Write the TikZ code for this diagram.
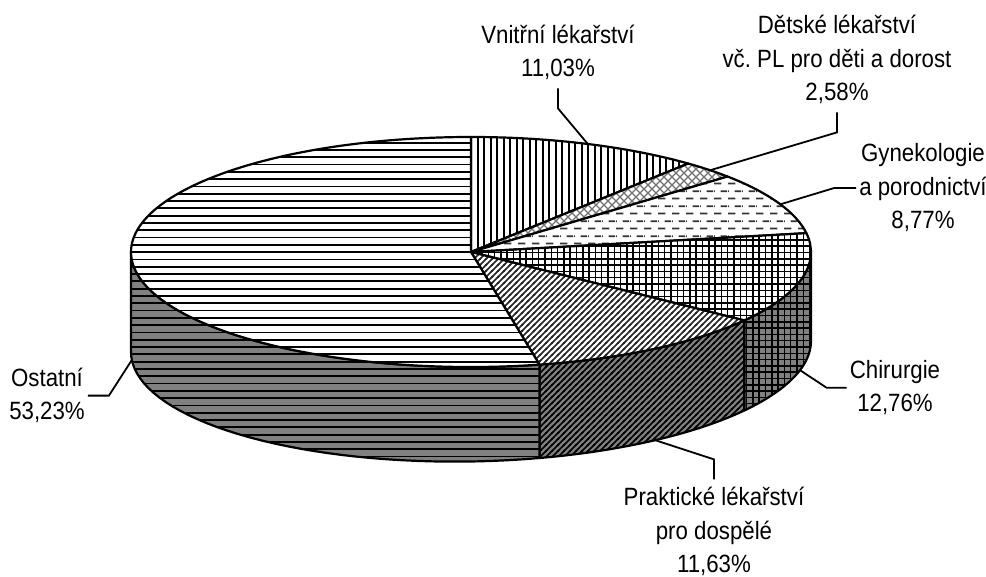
\documentclass[tikz,border=0pt]{standalone}
\usepackage{fontspec}
\setmainfont{Liberation Sans}[FakeStretch=0.89]
\usetikzlibrary{patterns.meta}

\definecolor{sidegray}{RGB}{128,128,128}
\newcommand{\lblfont}{\fontsize{25}{33.5}\selectfont}
\frenchspacing

% fill patterns of the slices
\tikzdeclarepattern{name=hstripes, type=uncolored,
  bottom left={(-.5pt,-.5pt)}, top right={(8.5pt,7.8pt)}, tile size={(8pt,7.3pt)},
  code={\draw[line width=1.8pt] (-.5pt,3.65pt) -- (8.5pt,3.65pt);}}
\tikzdeclarepattern{name=vstripes, type=uncolored,
  bottom left={(-.5pt,-.5pt)}, top right={(7pt,8.5pt)}, tile size={(6.5pt,8pt)},
  code={\draw[line width=1.6pt] (3.25pt,-.5pt) -- (3.25pt,8.5pt);}}
\tikzdeclarepattern{name=xhatch, type=uncolored,
  bottom left={(-.5pt,-.5pt)}, top right={(8.5pt,8.5pt)}, tile size={(8pt,8pt)},
  code={\draw[line width=1.3pt] (0pt,0pt) -- (8pt,8pt) (0pt,8pt) -- (8pt,0pt);}}
\tikzdeclarepattern{name=dashrows, type=uncolored,
  bottom left={(0pt,0pt)}, top right={(14pt,15pt)}, tile size={(14pt,15pt)},
  code={\draw[line width=1.8pt] (0pt,3.75pt) -- (8pt,3.75pt)
    (7pt,11.25pt) -- (14pt,11.25pt) (0pt,11.25pt) -- (1pt,11.25pt);}}
\tikzdeclarepattern{name=gridlines, type=uncolored,
  bottom left={(-.5pt,-.5pt)}, top right={(6.8pt,6.8pt)}, tile size={(6.3pt,6.3pt)},
  code={\draw[line width=1.5pt] (3.15pt,-.5pt) -- (3.15pt,6.8pt) (-.5pt,3.15pt) -- (6.8pt,3.15pt);}}
\tikzdeclarepattern{name=nestripes, type=uncolored,
  bottom left={(-.5pt,-.5pt)}, top right={(6.5pt,6.5pt)}, tile size={(6pt,6pt)},
  code={\draw[line width=1.6pt] (-1pt,-1pt) -- (7pt,7pt) (-1pt,5pt) -- (1pt,7pt) (5pt,-1pt) -- (7pt,1pt);}}

\begin{document}
\begin{tikzpicture}[x=1pt,y=1pt,
  slice/.style={draw=black, line width=2.2pt, line join=round},
  topface/.style={slice, preaction={fill=white}},
  sideface/.style={slice, preaction={fill=sidegray}},
  leader/.style={draw=black, line width=1.8pt},
  lbl/.style={font=\lblfont, align=center, inner xsep=3pt, inner ysep=8pt}]

\useasboundingbox (-471,-325) rectangle (515,252);

% side of the pie
\foreach \from/\to/\pat in {0/-36.504/gridlines, -36.504/-78.372/nestripes, -78.372/-180/hstripes}
  \draw[sideface, pattern=\pat] (\from:340 and 115)
    arc[start angle=\from, end angle=\to, x radius=340pt, y radius=115pt]
    -- plot[domain=\to:\from, samples=40] ({340*cos(\x)},{115*sin(\x)-94.5+5.5*cos(\x)}) -- cycle;

% top of the pie
\foreach \from/\to/\pat/\pc in {90/50.292/vstripes/black, 50.292/41.004/xhatch/black!55,
    41.004/9.432/dashrows/black!80, 9.432/-36.504/gridlines/black,
    -36.504/-78.372/nestripes/black!85, -78.372/-270/hstripes/black}
  \draw[topface, pattern=\pat, pattern color=\pc] (0,0) -- (\from:340 and 115)
    arc[start angle=\from, end angle=\to, x radius=340pt, y radius=115pt] -- cycle;

% where the leaders meet the pie
\coordinate (p-vn) at (69.9:340 and 115);
\coordinate (p-det) at (45.3:340 and 115);
\coordinate (p-gyn) at (24.5:340 and 115);
\foreach \nm/\ang in {p-chir/-14.6, p-prakt/-57.2, p-ost/-176}
  \coordinate (\nm) at ({340*cos(\ang)},{115*sin(\ang)-94.5+5.5*cos(\ang)});

% labels (base = last line)
\node[lbl, anchor=base] (vnitrni) at (87,175) {Vnitřní lékařství\\11,03\%};
\node[lbl, anchor=base] (detske) at (366,151) {Dětské lékařství\\vč. PL pro děti a dorost\\2,58\%};
\node[lbl, anchor=base] (gyn) at (452,23) {Gynekologie\\a porodnictví\\8,77\%};
\node[lbl, anchor=base] (chir) at (424,-160) {Chirurgie\\12,76\%};
\node[lbl, anchor=base] (prakt) at (243,-321) {Praktické lékařství\\pro dospělé\\11,63\%};
\node[lbl, anchor=base] (ostatni) at (-424,-168) {Ostatní\\53,23\%};

\draw[leader] (vnitrni.south) -- ++(0,-20) -- (p-vn);
\draw[leader] (detske.south) -- ++(0,-20) -- (p-det);
\draw[leader] (gyn.west) -- ++(-22,0) -- (p-gyn);
\draw[leader] (chir.west) -- ++(-20,0) -- (p-chir);
\draw[leader] (prakt.north) -- ++(0,20) -- (p-prakt);
\draw[leader] (ostatni.east) -- ++(21,0) -- (p-ost);

\end{tikzpicture}
\end{document}
